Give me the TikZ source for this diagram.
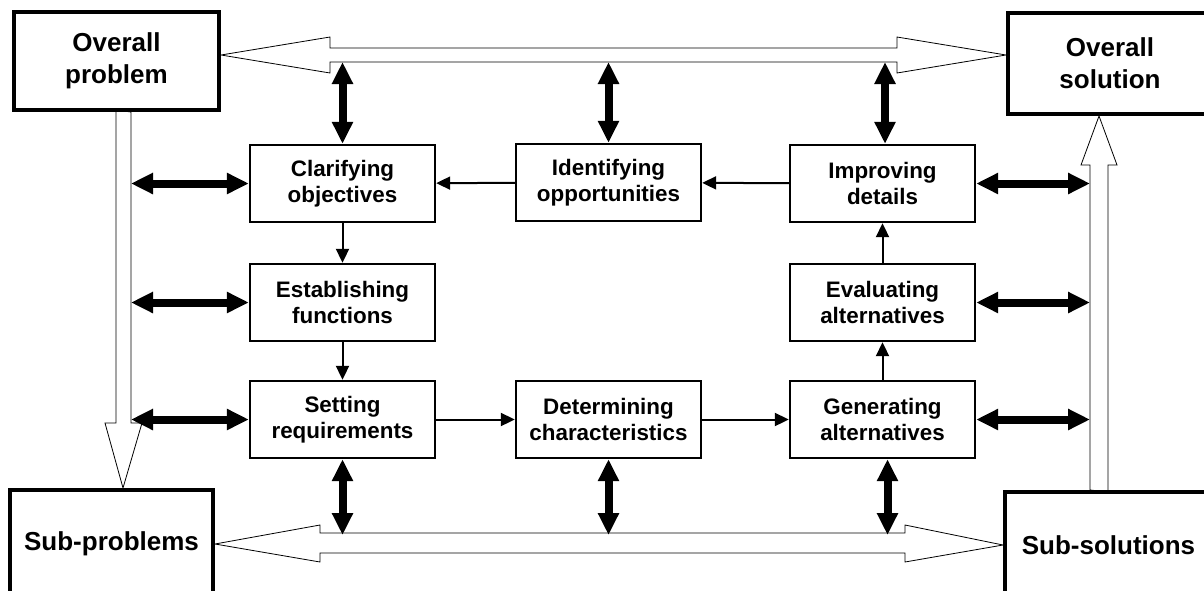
\documentclass[tikz,border=0pt]{standalone}
\usepackage{fontspec}
\setmainfont{Liberation Sans}
\usetikzlibrary{arrows.meta,backgrounds}

\begin{document}
\begin{tikzpicture}[x=0.5pt,y=-0.5pt]
    \useasboundingbox (0,0) rectangle (1204,590);

    % corner boxes
    \begin{scope}[every node/.style={draw,line width=2pt,fill=white,align=center,
        font=\bfseries\fontsize{13}{16}\selectfont}]
      \node[minimum width=102.5pt,minimum height=49pt] (op) at (116.5,61) {Overall\\problem};
      \node[minimum width=102pt,minimum height=50.5pt] (os) at (1110,63.5) {Overall\\solution};
      \node[minimum width=101.5pt,minimum height=54pt] (sp) at (111.5,544) {Sub-problems};
      \node[minimum width=103.5pt,minimum height=53pt] (ss) at (1108.5,545) {Sub-solutions};
    \end{scope}

    % design stages
    \begin{scope}[every node/.style={draw,line width=1.2pt,fill=white,align=center,
        minimum width=92.5pt,minimum height=38.5pt,
        font=\bfseries\fontsize{11.2}{13}\selectfont}]
      \node (clar) at (342.5,183.5) {Clarifying\\objectives};
      \node (iden) at (608.5,182.5) {Identifying\\opportunities};
      \node (impr) at (882.5,183.5) {Improving\\details};
      \node (esta) at (342.5,302.5) {Establishing\\functions};
      \node (eval) at (882.5,302.5) {Evaluating\\alternatives};
      \node (sett) at (342.5,419.5) {Setting\\requirements};
      \node (dete) at (608.5,419.5) {Determining\\characteristics};
      \node (gene) at (882.5,419.5) {Generating\\alternatives};
    \end{scope}

    \coordinate (lsh) at (131,0);
    \coordinate (rsh) at (1090,0);
    \coordinate (tsh) at (0,62);
    \coordinate (bsh) at (0,535);

    % hollow arrows
    \begin{scope}[on background layer,line width=0.9pt]
      \draw[fill=white] ([yshift=3pt]op.east) -- (330,37) -- (330,48) -- (897,48) -- (897,37)
        -- ([yshift=4.25pt]os.west) -- (897,73) -- (897,62) -- (330,62) -- (330,73) -- cycle;
      \draw[fill=white] (sp.east) -- (320,525) -- (320,533) -- (905,533) -- (905,525)
        -- (ss.west) -- (905,562) -- (905,553) -- (320,553) -- (320,562) -- cycle;
      \draw[fill=white] (116,110) -- (116,423) -- (105,423) -- ([xshift=5.75pt]sp.north)
        -- (142,423) -- (131,423) -- (lsh |- op.south) -- cycle;
      \draw[fill=white] (rsh |- ss.north) -- (1090,165) -- (1081,165) -- ([xshift=-5.5pt]os.south)
        -- (1117,165) -- (1108,165) -- (1108,492) -- cycle;
    \end{scope}

    % exchange with problem and solution levels
    \begin{scope}[>={Triangle[length=11pt,width=10pt]},line width=4pt]
      \path [<->] (lsh |- clar.west) edge (clar.west);
      \path [<->] (lsh |- esta.west) edge (esta.west);
      \path [<->] (lsh |- sett.west) edge (sett.west);
      \path [<->] (impr.east) edge (rsh |- impr.east);
      \path [<->] (eval.east) edge (rsh |- eval.east);
      \path [<->] (gene.east) edge (rsh |- gene.east);
      \path [<->] (clar.north) edge (clar.north |- tsh);
      \path [<->] (iden.north) edge (iden.north |- tsh);
      \path [<->] ([xshift=1.25pt]impr.north) edge ([xshift=1.25pt]impr.north |- tsh);
      \path [<->] (sett.south) edge (sett.south |- bsh);
      \path [<->] (dete.south) edge (dete.south |- bsh);
      \path [<->] ([xshift=2.5pt]gene.south) edge ([xshift=2.5pt]gene.south |- bsh);
    \end{scope}

    % stage sequence
    \begin{scope}[>={Triangle[length=7pt,width=6.5pt]},line width=1pt]
      \path [->] (iden) edge (clar);
      \path [->] (impr) edge (iden);
      \path [->] (clar) edge (esta);
      \path [->] (esta) edge (sett);
      \path [->] (sett) edge (dete);
      \path [->] (dete) edge (gene);
      \path [->] (gene) edge (eval);
      \path [->] (eval) edge (impr);
    \end{scope}
\end{tikzpicture}
\end{document}
